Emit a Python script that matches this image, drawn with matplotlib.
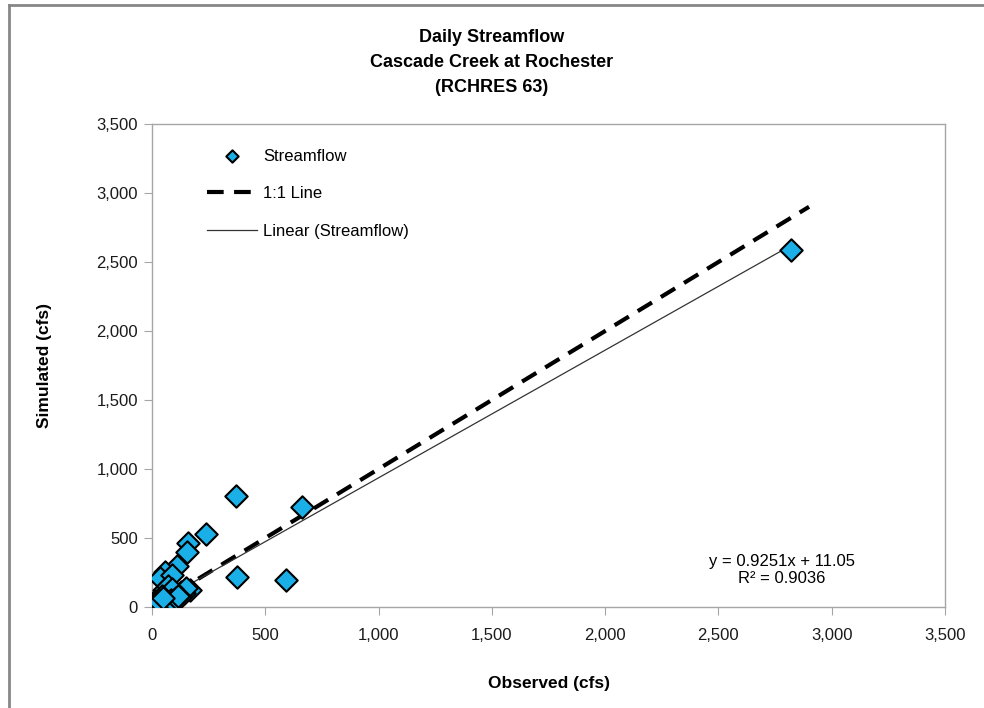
import matplotlib
matplotlib.use("Agg")
import matplotlib.pyplot as plt
from matplotlib.lines import Line2D
from matplotlib.ticker import FuncFormatter, MultipleLocator
import numpy as np

observed = [2820, 370, 660, 375, 590, 240, 160, 155, 110, 57, 35, 88, 168,
            13, 5, 10, 20, 25, 30, 40, 45, 50, 60, 65, 70, 75, 80, 85, 95,
            100, 110, 120, 130, 140, 150, 55, 70, 90, 8, 15, 30, 45,
            20, 35, 60, 80, 100, 125, 3, 12, 40, 55, 65, 85, 105, 115, 28, 48]
simulated = [2590, 805, 725, 215, 195, 530, 465, 400, 295, 254, 210, 232, 123,
             5, 10, 20, 15, 30, 25, 35, 55, 45, 50, 70, 60, 80, 65, 90, 75,
             100, 95, 85, 110, 105, 140, 120, 150, 130, 30, 40, 60, 80,
             8, 18, 30, 45, 55, 70, 25, 2, 12, 22, 38, 50, 62, 78, 45, 65]
one_to_one_x = [0, 2900]
slope, intercept = 0.9251, 11.05

title_text = "Daily Streamflow\nCascade Creek at Rochester\n(RCHRES 63)"
eq_text = "y = 0.9251x + 11.05\nR² = 0.9036"

plt.rcParams['font.family'] = ['Liberation Sans Narrow', 'Liberation Sans', 'DejaVu Sans']

fig = plt.figure(figsize=(9.84, 7.08), dpi=100)
ax = fig.add_axes([152/984, 1-607/708, (945-152)/984, (607-124)/708])

ax.scatter(observed, simulated, marker='D', s=130, facecolor='#1AAFE6',
           edgecolor='black', linewidth=1.5, zorder=3, label='Streamflow')
ax.plot(one_to_one_x, one_to_one_x, color='black', linestyle=(0, (4, 2.5)),
        linewidth=3, zorder=2, label='1:1 Line')
tx = np.array([min(observed), max(observed)])
ax.plot(tx, slope*tx + intercept, color='#333333', linewidth=0.9, zorder=2,
        label='Linear (Streamflow)')

ax.set_xlim(0, 3500)
ax.set_ylim(0, 3500)
ax.xaxis.set_major_locator(MultipleLocator(500))
ax.yaxis.set_major_locator(MultipleLocator(500))
fmt = FuncFormatter(lambda v, p: f"{int(v):,}")
ax.xaxis.set_major_formatter(fmt)
ax.yaxis.set_major_formatter(fmt)
for s in ax.spines.values():
    s.set_color('#A6A6A6')
    s.set_linewidth(1)
ax.tick_params(axis='both', direction='out', length=6, color='#A6A6A6',
               labelsize=12, labelcolor='#1a1a1a', pad=4)
ax.tick_params(axis='x', pad=9)

ax.set_xlabel("Observed (cfs)", fontsize=12.5, fontweight='bold', labelpad=24)
ax.set_ylabel("Simulated (cfs)", fontsize=12.5, fontweight='bold', labelpad=32)

fig.text(492/984, 1-29/708, title_text, ha='center', va='top', fontsize=13,
         fontweight='bold', linespacing=1.62)

fig.text(782/984, 1-570/708, eq_text, ha='center', va='center', fontsize=12,
         linespacing=1.1)

leg = ax.legend(loc='upper left', bbox_to_anchor=(0.05, 0.98), frameon=False,
                fontsize=12, labelspacing=1.35, handlelength=3.0,
                handletextpad=0.4, markerscale=0.55)

# outer frame
fig.add_artist(Line2D([9/984, 9/984], [0, 1-5/708], transform=fig.transFigure,
                      color='#878787', linewidth=2))
fig.add_artist(Line2D([9/984, 1], [1-5/708, 1-5/708], transform=fig.transFigure,
                      color='#878787', linewidth=2))

fig.savefig("out.png", dpi=100)
